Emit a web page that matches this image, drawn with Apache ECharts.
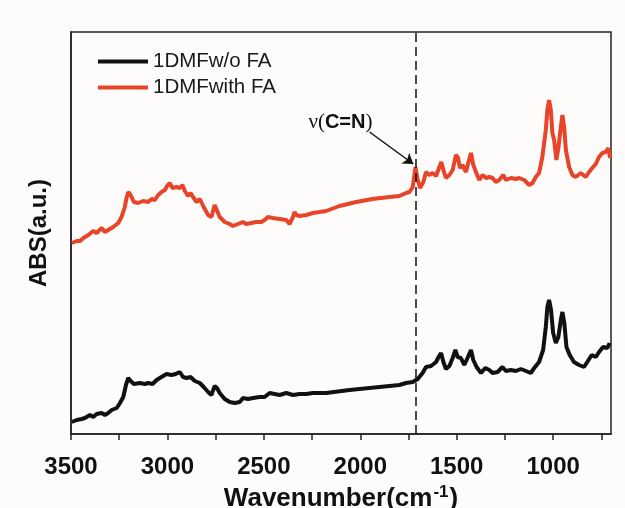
<!DOCTYPE html>
<html><head><meta charset="utf-8">
<script src="https://cdn.jsdelivr.net/npm/echarts@6/dist/echarts.min.js"></script>
<style>html,body{margin:0;padding:0;background:#fdfcfb}#c{width:625px;height:508px}</style>
</head><body><div id="c"></div>
<script>
const seriesNames = ['1DMFw/o FA', '1DMFwith FA'];
const tickLabels = [1000, 1500, 2000, 2500, 3000, 3500];
const tickMarks = [750, 1000, 1250, 1500, 1750, 2000, 2250, 2500, 2750, 3000, 3250, 3500];
const cnWave = 1715;
const redWave = [3496,3470,3453,3436,3410,3385,3367,3341,3324,3307,3281,3255,3238,3221,3212,3203,3191,3174,3152,3126,3100,3082,3065,3048,3031,3013,3002,2988,2974,2953,2936,2922,2910,2893,2880,2867,2849,2832,2812,2789,2772,2755,2746,2729,2703,2677,2660,2634,2608,2591,2565,2539,2513,2496,2479,2453,2418,2384,2367,2358,2349,2341,2332,2315,2280,2246,2211,2177,2108,2021,1937,1849,1797,1763,1745,1728,1714,1702,1690,1673,1659,1642,1625,1607,1590,1580,1569,1556,1538,1521,1504,1493,1483,1470,1452,1439,1426,1414,1400,1383,1366,1348,1331,1314,1297,1280,1259,1245,1219,1193,1176,1150,1124,1107,1090,1073,1056,1038,1030,1021,1012,1004,995,983,973,960,952,943,934,917,900,883,857,831,814,797,779,762,745,727,714,705];
const redAbs = [1.91,1.93,1.93,1.96,1.99,2.03,2.01,2.06,2.02,2.04,2.07,2.11,2.17,2.27,2.36,2.42,2.39,2.32,2.31,2.33,2.32,2.35,2.34,2.39,2.42,2.44,2.48,2.51,2.46,2.47,2.46,2.49,2.43,2.38,2.41,2.37,2.32,2.35,2.27,2.19,2.17,2.29,2.27,2.17,2.12,2.10,2.08,2.10,2.12,2.10,2.11,2.12,2.12,2.14,2.17,2.16,2.15,2.14,2.10,2.12,2.17,2.22,2.19,2.18,2.19,2.21,2.22,2.23,2.28,2.32,2.35,2.37,2.38,2.41,2.42,2.47,2.67,2.54,2.46,2.52,2.62,2.59,2.61,2.58,2.67,2.72,2.64,2.56,2.59,2.64,2.79,2.76,2.66,2.69,2.62,2.72,2.81,2.69,2.62,2.54,2.59,2.56,2.57,2.56,2.52,2.54,2.59,2.54,2.56,2.55,2.56,2.54,2.49,2.51,2.57,2.61,2.77,3.04,3.24,3.34,3.24,3.01,2.94,2.74,2.86,3.07,3.19,3.07,2.84,2.67,2.59,2.57,2.61,2.57,2.62,2.66,2.70,2.77,2.81,2.82,2.86,2.76];
const blackWave = [3496,3470,3445,3428,3402,3385,3367,3341,3324,3307,3289,3263,3246,3229,3215,3203,3191,3174,3143,3117,3100,3077,3056,3031,3005,2979,2957,2936,2919,2901,2880,2858,2832,2812,2789,2772,2755,2743,2729,2703,2677,2651,2625,2608,2582,2556,2522,2496,2470,2444,2418,2384,2349,2315,2280,2246,2211,2177,2056,1901,1797,1763,1728,1702,1677,1659,1633,1607,1594,1581,1569,1556,1538,1521,1507,1495,1478,1461,1444,1426,1414,1397,1374,1352,1331,1314,1288,1263,1245,1219,1193,1167,1141,1116,1098,1073,1052,1038,1030,1021,1011,1000,986,973,960,952,942,931,914,892,866,840,823,800,779,762,741,719,707];
const blackAbs = [0.12,0.14,0.15,0.16,0.19,0.17,0.20,0.21,0.19,0.21,0.24,0.26,0.31,0.37,0.49,0.56,0.53,0.50,0.51,0.50,0.51,0.50,0.54,0.57,0.60,0.59,0.60,0.62,0.57,0.56,0.57,0.53,0.51,0.47,0.42,0.39,0.48,0.46,0.41,0.35,0.32,0.31,0.32,0.36,0.35,0.36,0.37,0.37,0.41,0.40,0.39,0.41,0.39,0.40,0.40,0.41,0.41,0.41,0.44,0.47,0.49,0.51,0.52,0.55,0.61,0.67,0.68,0.72,0.77,0.81,0.72,0.65,0.68,0.76,0.84,0.77,0.76,0.69,0.76,0.84,0.74,0.67,0.61,0.66,0.64,0.61,0.62,0.67,0.63,0.64,0.63,0.65,0.63,0.61,0.66,0.72,0.84,1.07,1.27,1.34,1.24,1.01,0.91,0.97,1.14,1.22,1.11,0.87,0.79,0.72,0.69,0.67,0.72,0.79,0.77,0.82,0.87,0.86,0.91];
const arrowFrom = [1952, 3.02];
const arrowTo = [1725, 2.70];
const labelAt = [2103, 3.12];

const zip = (a, b) => a.map((v, i) => [v, b[i]]);
const RED = '#e8442a', BLK = '#111111';
const chart = echarts.init(document.getElementById('c'));
chart.setOption({
  backgroundColor: '#fdfcfb',
  animation: false,
  grid: { left: 71, right: 14, top: 32, bottom: 74, show: true, borderColor: '#222', borderWidth: 1.5, containLabel: false, outerBoundsMode: 'none' },
  legend: {
    left: 98, top: 51, padding: 0, orient: 'vertical', itemWidth: 50, itemHeight: 4, itemGap: 5, icon: 'rect',
    textStyle: { fontFamily: 'Liberation Sans', fontSize: 20.5, color: '#1a1a1a', lineHeight: 20 },
    data: seriesNames
  },
  xAxis: {
    type: 'value', min: 700, max: 3500, inverse: true,
    name: '{a|Wavenumber(cm}{s|-1}{a|)}', nameLocation: 'middle', nameGap: 48,
    nameTextStyle: { rich: {
      a: { fontFamily: 'Liberation Sans', fontWeight: 'bold', fontSize: 26, color: '#111' },
      s: { fontFamily: 'Liberation Sans', fontWeight: 'bold', fontSize: 17, color: '#111', verticalAlign: 'top', padding: [0, 1, 12, 1] }
    } },
    axisLine: { lineStyle: { color: '#222', width: 1.5 } },
    axisTick: { show: true, inside: false, length: 6, lineStyle: { color: '#222', width: 1.5 }, customValues: tickMarks },
    axisLabel: { customValues: tickLabels, margin: 21, formatter: v => String(v), fontFamily: 'Liberation Sans', fontWeight: 'bold', fontSize: 24, color: '#111' },
    splitLine: { show: false }
  },
  yAxis: {
    type: 'value', min: 0, max: 4.02,
    name: 'ABS(a.u.)', nameLocation: 'middle', nameGap: 20,
    nameTextStyle: { fontFamily: 'Liberation Sans', fontWeight: 'bold', fontSize: 24, color: '#111' },
    axisLine: { show: true, lineStyle: { color: '#222', width: 1.5 } },
    axisTick: { show: false }, axisLabel: { show: false }, splitLine: { show: false }
  },
  series: [
    {
      name: seriesNames[0], type: 'line', data: zip(blackWave, blackAbs), showSymbol: false, symbol: 'none',
      lineStyle: { color: BLK, width: 4 }, itemStyle: { color: BLK },
      markLine: { silent: true, symbol: 'none', label: { show: false },
        lineStyle: { color: '#111', width: 1.5, type: [9, 5] },
        data: [{ xAxis: cnWave }] }
    },
    {
      name: seriesNames[1], type: 'line', data: zip(redWave, redAbs), showSymbol: false, symbol: 'none',
      lineStyle: { color: RED, width: 4 }, itemStyle: { color: RED },
      markLine: { silent: true, symbol: ['none', 'arrow'], symbolSize: 10, label: { show: false },
        lineStyle: { color: '#111', width: 1.5, type: 'solid' },
        data: [[{ coord: arrowFrom }, { coord: arrowTo }]] },
      markPoint: { silent: true, symbol: 'circle', symbolSize: 0,
        label: { show: true, position: 'inside', formatter: '{s|ν(}{b|C=N}{s|)}',
          rich: {
            s: { fontFamily: 'Liberation Serif', fontSize: 21, color: '#111' },
            b: { fontFamily: 'Liberation Sans', fontWeight: 'bold', fontSize: 20, color: '#111' }
          } },
        data: [{ coord: labelAt }] }
    }
  ]
});
</script></body></html>
